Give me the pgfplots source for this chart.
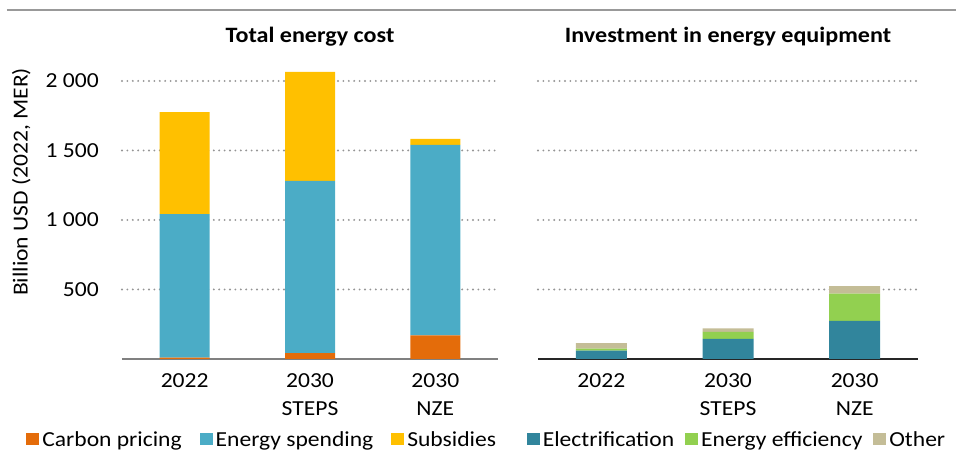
\documentclass[border=0pt]{standalone}
\usepackage{pgfplots}
\pgfplotsset{compat=1.18}
\usepackage{fontspec}
\setmainfont{Carlito}[FakeStretch=1.1]

\definecolor{carbon}{HTML}{E46C0A}
\definecolor{spend}{HTML}{4BACC6}
\definecolor{subs}{HTML}{FFC000}
\definecolor{elec}{HTML}{31859C}
\definecolor{effic}{HTML}{92D050}
\definecolor{other}{HTML}{C4BD97}
\definecolor{gridgray}{HTML}{959595}

\newcommand{\txt}{\fontsize{21.5}{28}\selectfont}

\pgfplotsset{
  ieabars/.style={
    scale only axis,
    height=305.8bp,
    ymin=0, ymax=2200,
    xmin=-0.5, xmax=2.5,
    ybar stacked,
    bar shift=0pt,
    xtick={0,1,2},
    xticklabels={2022, 2030\\STEPS, 2030\\NZE},
    xticklabel style={align=center, font=\txt, yshift=-11bp},
    ytick={500,1000,1500,2000},
    ymajorgrids,
    major grid style={gridgray, line width=2.1bp, dash pattern=on 0bp off 5.4bp, line cap=round},
    major tick length=0pt,
    axis x line*=bottom,
    axis y line*=left,
    y axis line style={draw=none},
    tick label style={font=\txt},
    /pgf/number format/assume math mode=true,
    /pgf/number format/1000 sep={\ },
    yticklabel style={inner sep=0pt, xshift=-23bp},
    title style={font=\bfseries\fontsize{22}{28}\selectfont, at={(axis description cs:0.5,1.033)}, anchor=center},
    legend columns=-1,
    legend cell align=left,
    legend image code/.code={\fill[##1] (0bp,-5bp) rectangle (13bp,7.5bp);},
    legend style={draw=none, fill=none, font=\txt, inner sep=0pt, anchor=west,
      nodes={inner sep=3bp}},
  }
}

\begin{document}
\begin{tikzpicture}[x=1bp,y=1bp]
\useasboundingbox (-122,-96) rectangle (834,359);

\begin{axis}[
  ieabars,
  width=376bp,
  bar width=50bp,
  title={Total energy cost},
  ylabel={Billion USD (2022, MER)},
  ylabel style={font=\txt, at={(axis description cs:-0.268,0.579)}, anchor=center},
  x axis line style={-, draw=gray, line width=1.5bp},
  legend style={at={(axis description cs:-0.255,-0.265)},
    /tikz/every even column/.append style={column sep=15bp}},
]
\addplot[fill=carbon, draw=none] coordinates {(0,10) (1,42) (2,170)};
\addplot[fill=spend, draw=none] coordinates {(0,1033) (1,1240) (2,1370)};
\addplot[fill=subs, draw=none] coordinates {(0,733) (1,783) (2,43)};
\legend{Carbon pricing, Energy spending, Subsidies}
\end{axis}

\begin{axis}[
  ieabars,
  at={(416bp,0bp)},
  width=380bp,
  bar width=51bp,
  title={Investment in energy equipment},
  yticklabels={},
  x axis line style={-, draw=black!85, line width=1.5bp},
  legend style={at={(axis description cs:-0.03,-0.265)},
    /tikz/every even column/.append style={column sep=8bp}},
]
\addplot[fill=elec, draw=none] coordinates {(0,60) (1,145) (2,275)};
\addplot[fill=effic, draw=none] coordinates {(0,15) (1,50) (2,195)};
\addplot[fill=other, draw=none] coordinates {(0,40) (1,25) (2,55)};
\legend{Electrification, Energy efficiency, Other}
\end{axis}

\draw[gray!80, line width=2bp] (-115,349) -- (834,349);
\end{tikzpicture}
\end{document}
